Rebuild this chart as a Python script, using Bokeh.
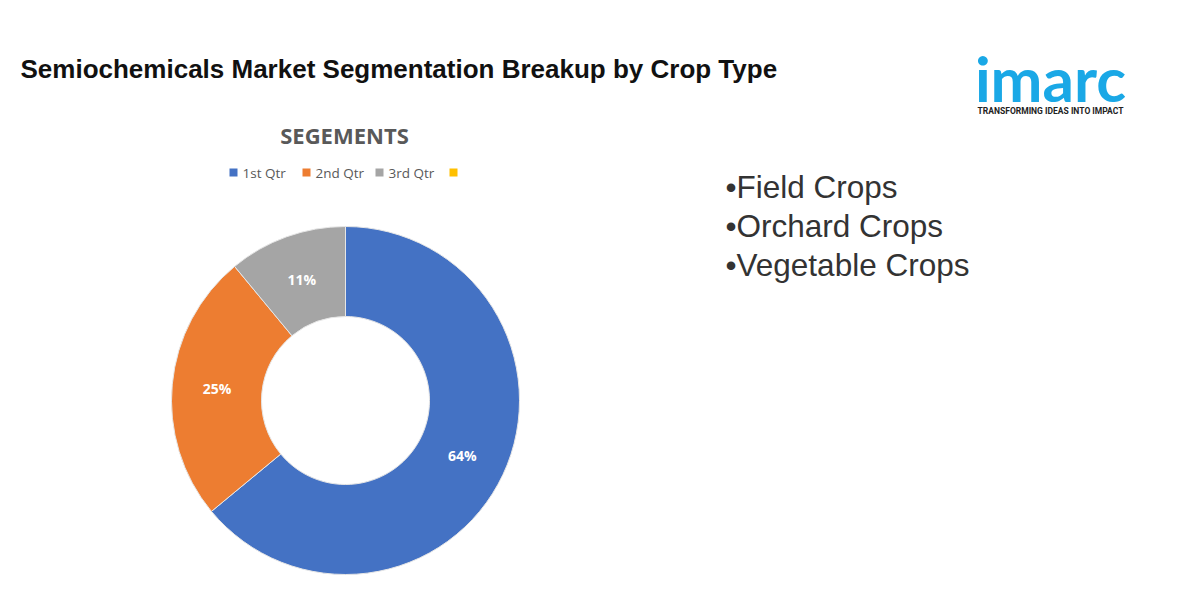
import numpy as np
from bokeh.plotting import figure
from bokeh.models import Range1d, ColumnDataSource
from bokeh.core.properties import value
from bokeh.embed import file_html
from bokeh.resources import INLINE

# ---- data ----
segments = ["1st Qtr", "2nd Qtr", "3rd Qtr", ""]
shares = [64, 25, 11]
colors = ["#4472C4", "#ED7D31", "#A5A5A5", "#FFC000"]
bullets = ["\u2022Field Crops", "\u2022Orchard Crops", "\u2022Vegetable Crops"]
title_text = "Semiochemicals Market Segmentation Breakup by Crop Type"
chart_title = "SEGEMENTS"

W, H = 1184, 584
def Y(ref_y):
    return H - ref_y
def X(ref_x):
    return ref_x

p = figure(width=W, height=H, x_range=Range1d(0, W), y_range=Range1d(0, H),
           output_backend="svg", toolbar_location=None, min_border=0,
           background_fill_color="white", border_fill_color="white", outline_line_color=None)
p.axis.visible = False
p.grid.visible = False

# ---- donut ----
cx, cy = X(345), Y(400)
r_out, r_in = 174, 84
vals = np.array(shares, dtype=float)
frac = vals / vals.sum()
cum = np.concatenate([[0], np.cumsum(frac)])
start = np.pi / 2 - 2 * np.pi * cum[1:]
end = np.pi / 2 - 2 * np.pi * cum[:-1]
src = ColumnDataSource(dict(x=[cx] * 3, y=[cy] * 3, s=start, e=end, c=colors[:3]))
p.annular_wedge(x="x", y="y", inner_radius=r_in, outer_radius=r_out,
                start_angle="s", end_angle="e", fill_color="c",
                line_color="#e6e6e6", line_width=1, source=src)

mid = (start + end) / 2
rm = (r_in + r_out) / 2
p.text(x=list(cx + rm * np.cos(mid)), y=list(cy + rm * np.sin(mid)),
       text=[f"{v:.0f}%" for v in shares], text_color="white",
       text_font=value("Open Sans"), text_font_style="bold", text_font_size="14px",
       text_align="center", text_baseline="middle")

# ---- chart title ----
p.text(x=[X(344)], y=[Y(134)], text=[chart_title], text_color="#595959",
       text_font=value("Open Sans"), text_font_style="bold", text_font_size="22px",
       text_align="center", text_baseline="middle")

# ---- legend ----
leg_sq_x = [233, 306, 379, 453]
ly = Y(172)
p.rect(x=[X(v) for v in leg_sq_x], y=[ly] * 4, width=8, height=8,
       width_units="screen", height_units="screen", fill_color=colors, line_color=None)
p.text(x=[X(v) + 9 for v in leg_sq_x], y=[ly] * 4, text=segments, text_color="#595959",
       text_font=value("Open Sans"), text_font_size="13.5px",
       text_align="left", text_baseline="middle")

# ---- page title ----
p.text(x=[X(20)], y=[Y(68)], text=[title_text], text_color="#111111",
       text_font=value("Liberation Sans"), text_font_style="bold", text_font_size="26px",
       text_align="left", text_baseline="middle")

# ---- bullets ----
p.text(x=[X(725)] * 3, y=[Y(186), Y(225), Y(264)], text=bullets, text_color="#333333",
       text_font=value("Liberation Sans"), text_font_size="31.5px",
       text_align="left", text_baseline="middle")

# ---- logo ----
p.text(x=[X(1050)], y=[Y(77)], text=["imarc"], text_color="#1AA8E6",
       text_font=value("Lato"), text_font_style="bold", text_font_size="62px",
       text_align="center", text_baseline="middle")
p.text(x=[X(1050)], y=[Y(110)], text=["TRANSFORMING IDEAS INTO IMPACT"], text_color="#222222",
       text_font=value("Roboto"), text_font_style="bold", text_font_size="8.5px",
       text_align="center", text_baseline="middle")

open("out.html", "w").write(file_html(p, INLINE))
